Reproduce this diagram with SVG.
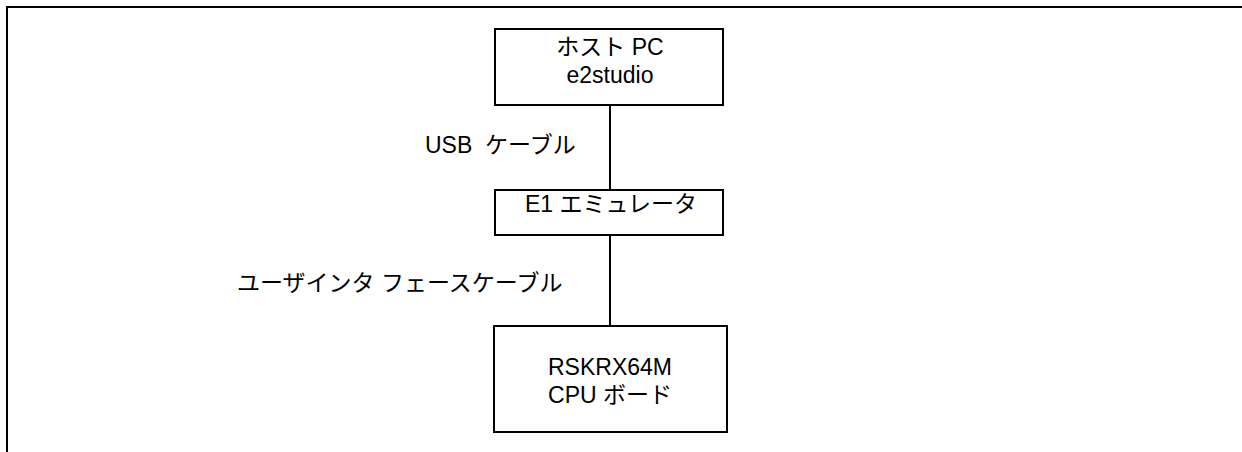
<svg xmlns="http://www.w3.org/2000/svg" width="1242" height="452" viewBox="0 0 1242 452">
<style>
.box{fill:#fff;stroke:#000;stroke-width:2}
.ln{stroke:#000;stroke-width:2;fill:none}
text{font-family:"Liberation Sans","Noto Sans CJK JP",sans-serif;font-size:23px;fill:#000}
.c{text-anchor:middle}
</style>
<rect width="1242" height="452" fill="#fff"/>
<path class="ln" d="M7,452 V7 H1242"/>
<g id="connectors">
<line class="ln" x1="610" y1="105" x2="610" y2="190"/>
<line class="ln" x1="610" y1="234" x2="610" y2="326"/>
<text x="425" y="153" xml:space="preserve">USB  ケーブル</text>
<text x="237" y="291">ユーザインタ フェースケーブル</text>
</g>
<g id="host">
<rect class="box" x="495" y="29" width="228" height="76"/>
<text class="c" x="610" y="55">ホスト PC</text>
<text class="c" x="610" y="83">e2studio</text>
</g>
<g id="emulator">
<rect class="box" x="495" y="190" width="228" height="45"/>
<text class="c" x="611" y="212">E1 エミュレータ</text>
</g>
<g id="board">
<rect class="box" x="494" y="326" width="233" height="106"/>
<text class="c" x="610" y="375">RSKRX64M</text>
<text class="c" x="610" y="403">CPU ボード</text>
</g>
</svg>
